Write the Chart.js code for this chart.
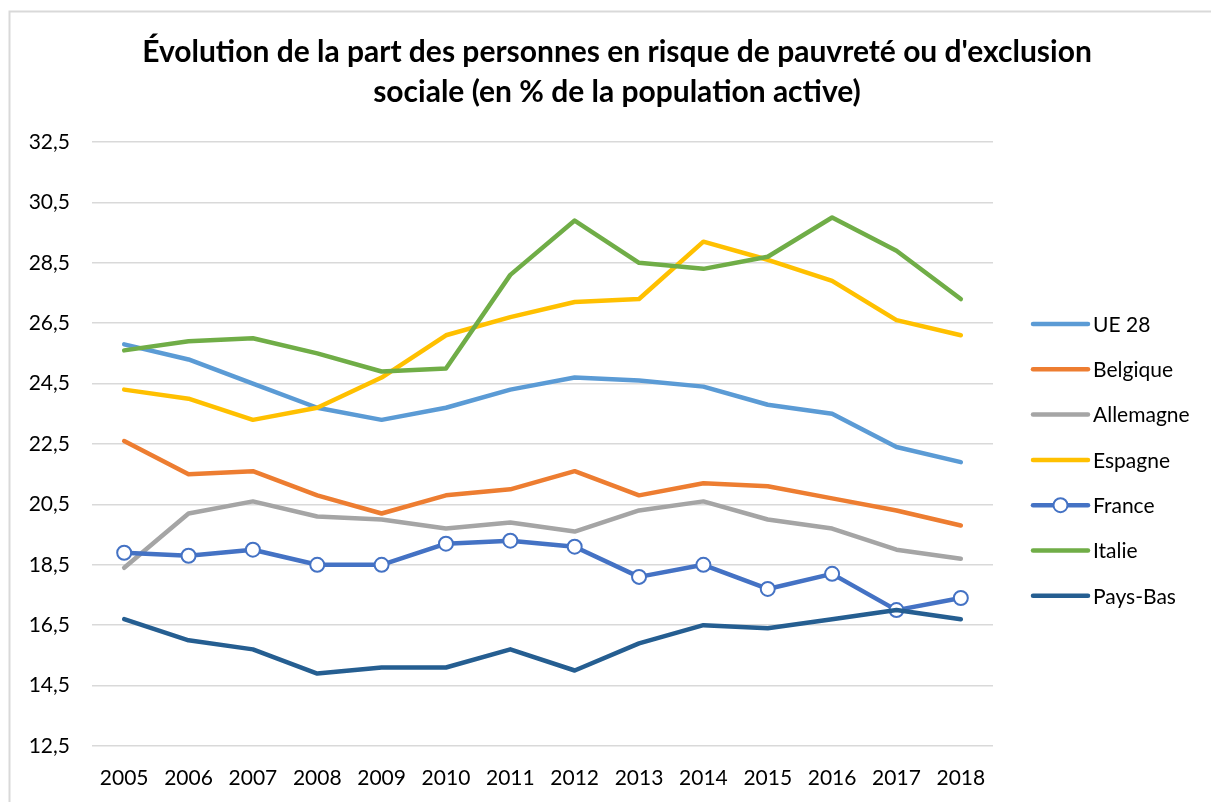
<!DOCTYPE html>
<html>
<head>
<meta charset="utf-8">
<script src="https://cdn.jsdelivr.net/npm/chart.js@4"></script>
<style>
  html, body { margin: 0; padding: 0; background: #fff; }
  #wrap { width: 1211px; height: 802px; }
</style>
</head>
<body>
<div id="wrap"><canvas id="myChart" width="1211" height="802"></canvas></div>
<script>
const years = ['2005', '2006', '2007', '2008', '2009', '2010', '2011', '2012', '2013', '2014', '2015', '2016', '2017', '2018'];

const ue28      = [25.8, 25.3, 24.5, 23.7, 23.3, 23.7, 24.3, 24.7, 24.6, 24.4, 23.8, 23.5, 22.4, 21.9];
const belgique  = [22.6, 21.5, 21.6, 20.8, 20.2, 20.8, 21.0, 21.6, 20.8, 21.2, 21.1, 20.7, 20.3, 19.8];
const allemagne = [18.4, 20.2, 20.6, 20.1, 20.0, 19.7, 19.9, 19.6, 20.3, 20.6, 20.0, 19.7, 19.0, 18.7];
const espagne   = [24.3, 24.0, 23.3, 23.7, 24.7, 26.1, 26.7, 27.2, 27.3, 29.2, 28.6, 27.9, 26.6, 26.1];
const france    = [18.9, 18.8, 19.0, 18.5, 18.5, 19.2, 19.3, 19.1, 18.1, 18.5, 17.7, 18.2, 17.0, 17.4];
const italie    = [25.6, 25.9, 26.0, 25.5, 24.9, 25.0, 28.1, 29.9, 28.5, 28.3, 28.7, 30.0, 28.9, 27.3];
const paysBas   = [16.7, 16.0, 15.7, 14.9, 15.1, 15.1, 15.7, 15.0, 15.9, 16.5, 16.4, 16.7, 17.0, 16.7];

const seriesNames = ['UE 28', 'Belgique', 'Allemagne', 'Espagne', 'France', 'Italie', 'Pays-Bas'];
const seriesData = [ue28, belgique, allemagne, espagne, france, italie, paysBas];
const seriesColors = ['#5B9BD5', '#ED7D31', '#A5A5A5', '#FFC000', '#4472C4', '#70AD47', '#255E91'];

const titleLines = ["Évolution de la part des personnes en risque de pauvreté ou d'exclusion", 'sociale (en % de la population active)'];

const yMin = 12.5;
const yMax = 32.5;
const yStep = 2;

const font = 'Lato, "Open Sans", sans-serif';

const datasets = seriesNames.map((name, i) => {
    const withMarker = name === 'France';
    return {
        label: name,
        data: seriesData[i],
        borderColor: seriesColors[i],
        backgroundColor: seriesColors[i],
        borderWidth: 4.5,
        borderJoinStyle: 'round',
        borderCapStyle: 'round',
        tension: 0,
        // excel draws later series on top
        order: seriesNames.length - i,
        pointRadius: withMarker ? 7 : 0,
        pointHoverRadius: withMarker ? 7 : 0,
        pointBackgroundColor: '#ffffff',
        pointBorderColor: seriesColors[i],
        pointBorderWidth: 2
    };
});

// frame, title centred on the canvas and legend on the right, like the excel one
const extras = {
    id: 'extras',
    beforeDraw(chart) {
        const c = chart.ctx;
        c.save();
        c.strokeStyle = '#d9d9d9';
        c.lineWidth = 2;
        c.beginPath();
        c.moveTo(9.5, chart.height);
        c.lineTo(9.5, 11.5);
        c.lineTo(chart.width, 11.5);
        c.stroke();
        c.restore();
    },
    afterDraw(chart) {
        const c = chart.ctx;
        const area = chart.chartArea;
        c.save();
        c.fillStyle = '#000';
        c.textAlign = 'center';
        c.textBaseline = 'middle';
        c.font = 'bold 30px ' + font;
        titleLines.forEach((t, i) => c.fillText(t, 617, 52 + i * 40));

        const x0 = area.right + 40;
        const lineLen = 55;
        const top = 324;
        const gap = 45.3;
        c.textAlign = 'left';
        c.font = '21px ' + font;
        chart.data.datasets.forEach((ds, i) => {
            const y = top + i * gap;
            c.strokeStyle = ds.borderColor;
            c.lineWidth = 4.5;
            c.lineCap = 'round';
            c.beginPath();
            c.moveTo(x0, y);
            c.lineTo(x0 + lineLen, y);
            c.stroke();
            if (ds.pointRadius > 0) {
                c.beginPath();
                c.arc(x0 + lineLen / 2, y, 7, 0, Math.PI * 2);
                c.fillStyle = '#fff';
                c.fill();
                c.lineWidth = 2;
                c.stroke();
                c.fillStyle = '#000';
            }
            c.fillText(ds.label, x0 + lineLen + 5, y + 1);
        });
        c.restore();
    }
};

const ctx = document.getElementById('myChart').getContext('2d');
let myChart = new Chart(ctx, {
    type: 'line',
    data: {
        labels: years,
        datasets: datasets
    },
    options: {
        responsive: false,
        animation: false,
        events: [],
        layout: {
            padding: { left: 0, right: 218, top: 142, bottom: 0 }
        },
        plugins: {
            legend: { display: false },
            tooltip: { enabled: false },
            title: { display: false }
        },
        scales: {
            x: {
                offset: true,
                afterFit(scale) { scale.height = 56; },
                grid: { display: false, drawTicks: false },
                border: { display: false },
                ticks: {
                    color: '#000',
                    font: { family: font, size: 21 },
                    padding: 20,
                    maxRotation: 0
                }
            },
            y: {
                min: yMin,
                max: yMax,
                afterFit(scale) { scale.width = 92; },
                afterBuildTicks(scale) {
                    const t = [];
                    for (let v = yMin; v <= yMax + 0.001; v += yStep) t.push({ value: v });
                    scale.ticks = t;
                },
                grid: { color: '#d9d9d9', lineWidth: 1.5, drawTicks: false },
                border: { display: false },
                ticks: {
                    color: '#000',
                    font: { family: font, size: 21 },
                    padding: 22,
                    callback: v => v.toFixed(1).replace('.', ',')
                }
            }
        }
    },
    plugins: [extras]
});
</script>
</body>
</html>
